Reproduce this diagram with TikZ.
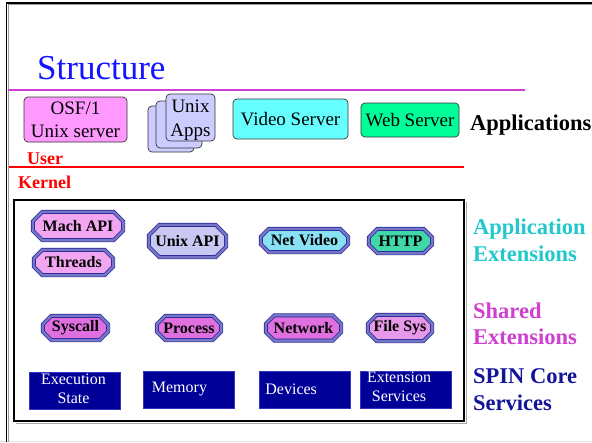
\documentclass[tikz,border=0pt]{standalone}
\usepackage{fontspec}
\setmainfont{Liberation Serif}
\usetikzlibrary{backgrounds}

\definecolor{titleblue}{HTML}{1414FF}
\definecolor{magline}{HTML}{D040D0}
\definecolor{osfpink}{HTML}{FF99FF}
\definecolor{applav}{HTML}{CCCCFF}
\definecolor{videocyan}{HTML}{66FFFF}
\definecolor{webgreen}{HTML}{00FF99}
\definecolor{octedge}{HTML}{24249A}
\definecolor{octbevel}{HTML}{7676C6}
\definecolor{machpink}{HTML}{F2A6F2}
\definecolor{unixlav}{HTML}{C8C8F2}
\definecolor{netcyan}{HTML}{88E2F4}
\definecolor{httpgreen}{HTML}{40D8A8}
\definecolor{sharedmag}{HTML}{E070E0}
\definecolor{filepink}{HTML}{E898E8}
\definecolor{corefill}{HTML}{000099}
\definecolor{coreedge}{HTML}{3434C0}
\definecolor{appext}{HTML}{22C8CC}
\definecolor{sharedext}{HTML}{D040D0}
\definecolor{corelabel}{HTML}{14149A}

\begin{document}
\begin{tikzpicture}[x=1pt,y=-1pt,
  appbox/.style={draw=black!80, line width=0.7pt, rounded corners=4pt,
    inner sep=0pt, align=center, font=\fontsize{19}{23}\selectfont},
  octtext/.style={rectangle, inner sep=0pt,
    font=\fontsize{16}{19}\bfseries\selectfont},
  octframe/.style={draw=octedge, line width=0.7pt, double=octbevel,
    double distance=2.6pt, line join=miter},
  corebox/.style={draw=coreedge, fill=corefill, line width=0.6pt,
    minimum width=91pt, minimum height=37pt, inner sep=0pt},
  coretext/.style={text=white, inner sep=0pt, align=center,
    font=\fontsize{16}{19.5}\selectfont},
  sidelabel/.style={anchor=west, inner sep=0pt, align=left,
    font=\fontsize{22.5}{26.5}\bfseries\selectfont},
  modelabel/.style={anchor=base west, inner sep=0pt, text=red,
    font=\fontsize{18}{20}\bfseries\selectfont},
  rule/.style={line width=2.2pt}
]
\useasboundingbox (0,0) rectangle (592,442);
\begin{scope}[on background layer]
  \fill[white] (0,0) rectangle (592,442);
\end{scope}

% slide frame
\draw[black!10, line width=0.8pt] (0,441) -- (592,441);
\draw[black!40, line width=0.8pt] (8.2,442) -- (8.2,4.8) -- (592,4.8);
\draw[black, line width=1.8pt] (6.5,442) -- (6.5,3) -- (592,3);

% title and dividing rules
\node[anchor=base west, inner sep=0pt, text=titleblue,
  font=\fontsize{35}{40}\selectfont] (title) at (37,79) {Structure};
\draw[rule, magline] (8,90) -- (525,90);
\draw[rule, red] (9,167) -- (464,167);

% user-level applications
\node[appbox, fill=osfpink, minimum width=103pt, minimum height=45pt]
  (osf) at (75.5,119.5) {OSF/1\\Unix server};
\node[appbox, fill=applav, minimum width=46pt, minimum height=46pt]
  (stackback) at (171,129) {};
\node[appbox, fill=applav, minimum width=46pt, minimum height=47pt]
  (stackmid) at (179,124.5) {};
\node[appbox, fill=applav, minimum width=49pt, minimum height=47pt]
  (apps) at (190.5,117.5) {};
\node[inner sep=0pt, align=center, font=\fontsize{19}{24}\selectfont]
  (appstext) at ([yshift=-3pt]apps.center) {Unix\\Apps};
\node[appbox, fill=videocyan, minimum width=115pt, minimum height=40pt]
  (video) at (290.5,119) {Video Server};
\node[appbox, fill=webgreen, minimum width=98pt, minimum height=34pt]
  (web) at (410,120) {Web Server};
\node[anchor=base west, inner sep=0pt,
  font=\fontsize{22.5}{26}\bfseries\selectfont] (applbl) at (470,130) {Applications};

\node[modelabel] (user) at (27,164) {User};
\node[modelabel] (kernel) at (18,188) {Kernel};

% kernel box
\draw[black!35, line width=1pt] (16,423) -- (466,423) -- (466,202);
\draw[black, line width=1.4pt] (14,200) rectangle (464,421);

% extension labels (frames are added behind them below)
\node[octtext, minimum width=90pt, minimum height=28pt] (mach) at (78,226) {Mach API};
\node[octtext, minimum width=79pt, minimum height=25pt] (threads) at (73.5,262.5) {Threads};
\node[octtext, minimum width=77pt, minimum height=32pt] (unixapi) at (187.5,241) {Unix API};
\node[octtext, minimum width=87pt, minimum height=23pt] (netvideo) at (304.5,240.5) {Net Video};
\node[octtext, minimum width=63pt, minimum height=24pt] (http) at (400.5,241) {HTTP};
\node[octtext, minimum width=65pt, minimum height=24pt] (syscall) at (75.5,328) {Syscall};
\node[octtext, minimum width=64pt, minimum height=24pt] (process) at (189,328) {Process};
\node[octtext, minimum width=75pt, minimum height=25pt] (network) at (303.5,328) {Network};
\node[octtext, minimum width=64pt, minimum height=26pt] (filesys) at (400,328) {File Sys};

% bevelled octagon frames
\begin{scope}[on background layer]
  \foreach \n/\col/\c in {mach/machpink/9.5, threads/machpink/8.5,
      unixapi/unixlav/10.5, netvideo/netcyan/8, http/httpgreen/8.5,
      syscall/sharedmag/8.5, process/sharedmag/8.5,
      network/sharedmag/8.5, filesys/filepink/9} {
    \draw[octframe, fill=\col]
      ([xshift=\c pt]\n.north west) -- ([xshift=-\c pt]\n.north east)
      -- ([yshift=-\c pt]\n.north east) -- ([yshift=\c pt]\n.south east)
      -- ([xshift=-\c pt]\n.south east) -- ([xshift=\c pt]\n.south west)
      -- ([yshift=\c pt]\n.south west) -- ([yshift=-\c pt]\n.north west)
      -- cycle;
  }
\end{scope}

% core services
\node[corebox] (exec) at (75,391) {};
\node[coretext] (exectext) at ([xshift=-1.5pt, yshift=2pt]exec.center) {Execution\\State};
\node[corebox] (mem) at (188.5,390) {};
\node[coretext, anchor=west] (memtext) at ([xshift=9pt, yshift=1pt]mem.west) {Memory};
\node[corebox] (dev) at (305,390) {};
\node[coretext, anchor=west] (devtext) at ([xshift=6pt, yshift=1pt]dev.west) {Devices};
\node[corebox] (extsvc) at (406,390) {};
\node[coretext] (extsvctext) at ([xshift=-7pt, yshift=3pt]extsvc.center) {Extension\\Services};

% layer labels
\node[sidelabel, text=appext] (appextlbl) at (473,240.5) {Application\\Extensions};
\node[sidelabel, text=sharedext] (sharedlbl) at (473,324) {Shared\\Extensions};
\node[sidelabel, text=corelabel] (corelbl) at (473,389.5) {SPIN Core\\Services};
\end{tikzpicture}
\end{document}
